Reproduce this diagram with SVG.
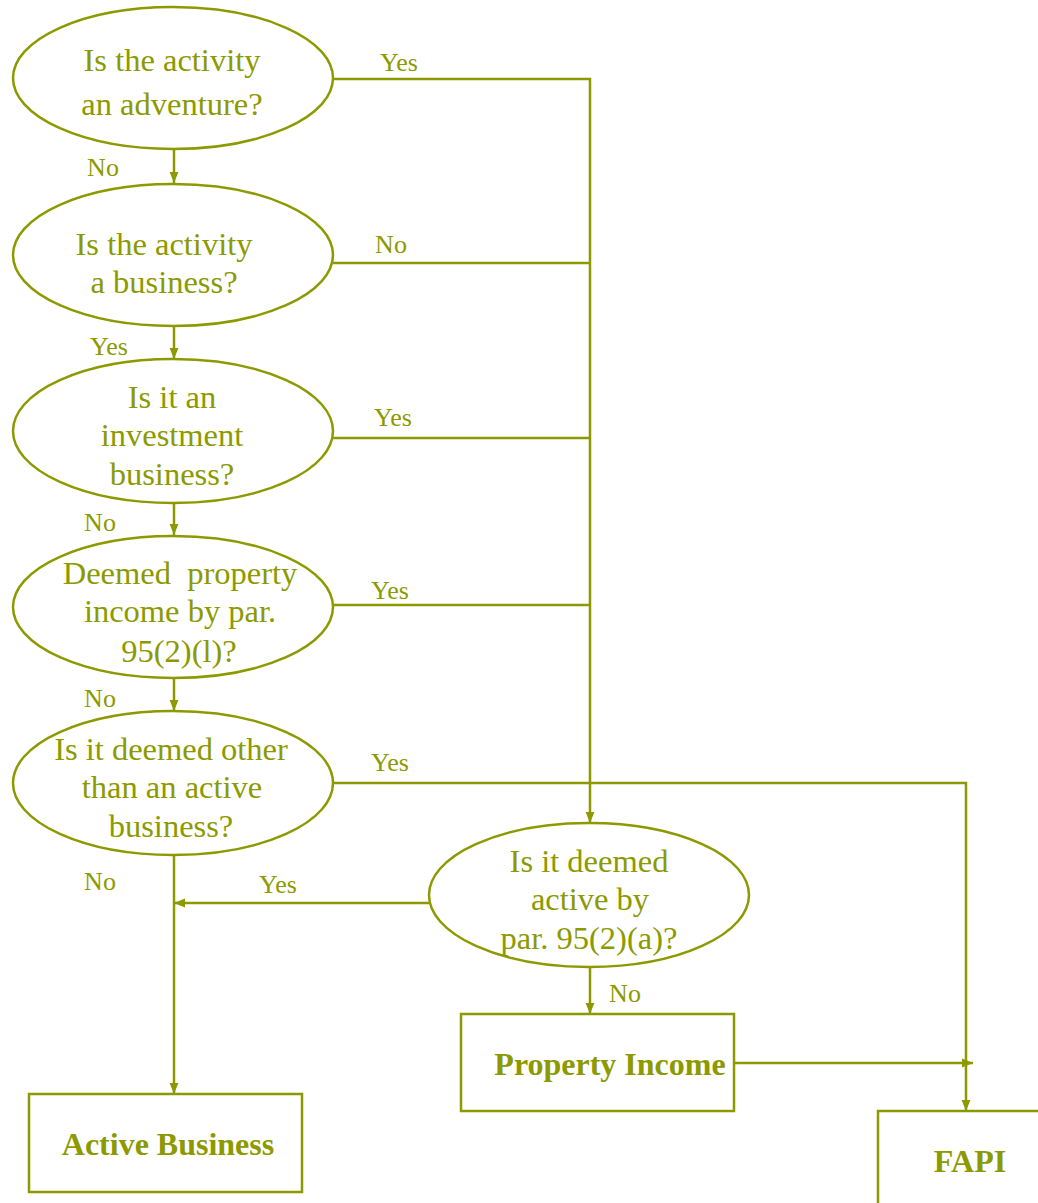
<svg xmlns="http://www.w3.org/2000/svg" width="1038" height="1203" viewBox="0 0 1038 1203">
<defs>
<style>
.n{fill:#fff;stroke:#8c9a00;stroke-width:2.5}
.t{font-family:"Liberation Serif","Times New Roman",serif;font-size:32.5px;fill:#8c9a00;text-anchor:middle}
.b{font-family:"Liberation Serif","Times New Roman",serif;font-size:32px;font-weight:bold;fill:#8c9a00;text-anchor:middle}
.l{font-family:"Liberation Serif","Times New Roman",serif;font-size:26px;fill:#8c9a00;text-anchor:middle}
.c{fill:none;stroke:#8c9a00;stroke-width:2.5}
</style>
<marker id="ah" viewBox="0 0 10 10" refX="10" refY="5" markerWidth="11" markerHeight="11" markerUnits="userSpaceOnUse" orient="auto">
<path d="M0,1 L10,5 L0,9 z" fill="#8c9a00"/>
</marker>
</defs>
<rect width="1038" height="1203" fill="#fff"/>
<g id="connectors">
<path class="c" d="M174,150 V183" marker-end="url(#ah)"/>
<path class="c" d="M333,79 H590 V823" marker-end="url(#ah)"/>
<path class="c" d="M333,263 H590"/>
<path class="c" d="M174,326 V359" marker-end="url(#ah)"/>
<path class="c" d="M333,438 H590"/>
<path class="c" d="M174,503 V535" marker-end="url(#ah)"/>
<path class="c" d="M333,605 H590"/>
<path class="c" d="M174,678 V711" marker-end="url(#ah)"/>
<path class="c" d="M333,783 H966 V1111" marker-end="url(#ah)"/>
<path class="c" d="M174,855 V1094" marker-end="url(#ah)"/>
<path class="c" d="M429,903 H174" marker-end="url(#ah)"/>
<path class="c" d="M590,967 V1014" marker-end="url(#ah)"/>
<path class="c" d="M734,1063 H973" marker-end="url(#ah)"/>
<text class="l" x="399" y="71">Yes</text>
<text class="l" x="103" y="176">No</text>
<text class="l" x="391" y="253">No</text>
<text class="l" x="109" y="355">Yes</text>
<text class="l" x="393" y="426">Yes</text>
<text class="l" x="100" y="531">No</text>
<text class="l" x="390" y="599">Yes</text>
<text class="l" x="100" y="707">No</text>
<text class="l" x="390" y="771">Yes</text>
<text class="l" x="100" y="890">No</text>
<text class="l" x="278" y="893">Yes</text>
<text class="l" x="625" y="1002">No</text>
</g>
<g id="q1">
<ellipse class="n" cx="173" cy="78" rx="160" ry="71"/>
<text class="t" x="172" y="71">Is the activity</text>
<text class="t" x="172" y="115">an adventure?</text>
</g>
<g id="q2">
<ellipse class="n" cx="173" cy="255" rx="160" ry="71"/>
<text class="t" x="164" y="255">Is the activity</text>
<text class="t" x="164" y="293">a business?</text>
</g>
<g id="q3">
<ellipse class="n" cx="173" cy="431" rx="160" ry="72"/>
<text class="t" x="172" y="408">Is it an</text>
<text class="t" x="172" y="446">investment</text>
<text class="t" x="172" y="485">business?</text>
</g>
<g id="q4">
<ellipse class="n" cx="173" cy="607" rx="160" ry="71"/>
<text class="t" x="180" y="584" style="white-space:pre" xml:space="preserve">Deemed  property</text>
<text class="t" x="180" y="622">income by par.</text>
<text class="t" x="179" y="662">95(2)(l)?</text>
</g>
<g id="q5">
<ellipse class="n" cx="173" cy="783" rx="160" ry="72"/>
<text class="t" x="171" y="760">Is it deemed other</text>
<text class="t" x="172" y="798">than an active</text>
<text class="t" x="171" y="837">business?</text>
</g>
<g id="q6">
<ellipse class="n" cx="589" cy="895" rx="160" ry="72"/>
<text class="t" x="589" y="872">Is it deemed</text>
<text class="t" x="590" y="910">active by</text>
<text class="t" x="589" y="949">par. 95(2)(a)?</text>
</g>
<g id="active-business">
<rect class="n" x="29" y="1094" width="273" height="98"/>
<text class="b" x="168" y="1155">Active Business</text>
</g>
<g id="property-income">
<rect class="n" x="461" y="1014" width="273" height="97"/>
<text class="b" x="610" y="1075">Property Income</text>
</g>
<g id="fapi">
<rect class="n" x="878" y="1111" width="200" height="150"/>
<text class="b" x="970" y="1172">FAPI</text>
</g>
</svg>
